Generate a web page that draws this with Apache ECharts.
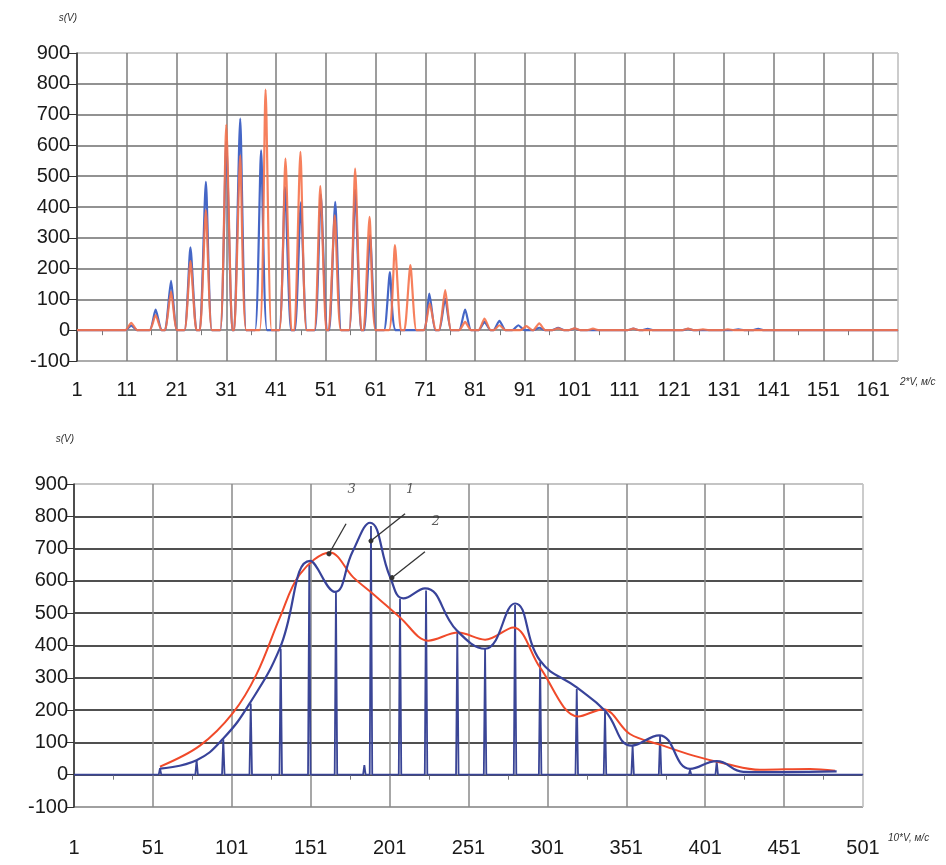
<!DOCTYPE html>
<html>
<head>
<meta charset="utf-8">
<title>s(V)</title>
<script src="https://cdn.jsdelivr.net/npm/echarts@6/dist/echarts.min.js"></script>
<style>
html, body { margin: 0; padding: 0; background: #fff; }
#chart { width: 946px; height: 865px; }
</style>
</head>
<body>
<div id="chart"></div>
<script>
// ---- upper plot (2*V, m/s) : peak positions and heights
const topBlueX = [11.9, 16.8, 19.9, 23.8, 26.9, 31, 33.8, 38, 42.8, 46, 50, 52.9, 56.9, 59.9, 63.9, 71.8, 75, 79, 82.9, 85.9, 89.7, 93.9, 97.7, 101, 112.8, 115.7, 123.8, 133.9, 137.9];
const topBlueY = [15, 67, 160, 269, 482, 612, 687, 584, 465, 415, 440, 417, 455, 308, 189, 119, 103, 67, 27, 30, 16, 8, 8, 5, 5, 4, 4, 3, 4];
const topRedX = [11.9, 16.8, 19.9, 23.8, 26.9, 31, 33.8, 38.9, 42.9, 45.9, 49.9, 52.8, 56.9, 59.8, 64.9, 68, 71.9, 75, 79, 82.9, 85.9, 91.3, 93.9, 97.7, 101, 104.7, 112.8, 123.8, 126.8, 131.8];
const topRedY = [24, 49, 125, 224, 390, 667, 568, 781, 557, 579, 468, 373, 525, 368, 276, 211, 87, 130, 27, 38, 16, 13, 22, 6, 6, 5, 5, 5, 3, 3];
const topXTicks = [1, 11, 21, 31, 41, 51, 61, 71, 81, 91, 101, 111, 121, 131, 141, 151, 161];

// ---- lower plot (10*V, m/s)
const envBlueX = [55.5, 78.7, 95.6, 112.5, 131.5, 150.6, 166.4, 177.5, 188.6, 201.3, 209.7, 223.4, 243.5, 261.5, 280.5, 296.4, 319.6, 337.5, 354.4, 371.9, 391.4, 408.3, 425.2, 450, 484.3];
const envBlueY = [19, 45, 112, 222, 392, 662, 566, 690, 780, 612, 546, 577, 447, 390, 530, 353, 270, 198, 90, 122, 18, 42, 9, 8, 10];
const envRedX = [55.5, 80.8, 102, 116.8, 131.5, 144.2, 163.2, 178, 190.7, 207.6, 225.5, 244.5, 261.5, 279.4, 296.3, 320.6, 336.4, 353.3, 372.4, 393.5, 414.6, 435.7, 467.4, 483.3];
const envRedY = [25, 90, 193, 312, 487, 621, 688, 611, 559, 487, 415, 440, 418, 456, 332, 180, 203, 126, 93, 59, 33, 15, 18, 12];
const spikeX = [55.5, 78.7, 95.6, 113, 132, 150.1, 167, 185, 189.2, 207.6, 224.1, 243.9, 261.5, 280.5, 296.4, 319.6, 337.5, 355, 372.4, 391.4, 408.3];
const spikeY = [20, 45, 110, 220, 390, 650, 565, 30, 770, 545, 570, 440, 390, 525, 350, 265, 195, 90, 120, 15, 40];
const botXTicks = [1, 51, 101, 151, 201, 251, 301, 351, 401, 451, 501];

// curve labels 1, 2, 3 with their leader lines
const noteText = ['3', '1', '2'];
const noteTextX = [177, 214, 230.4];
const noteTextY = [882, 882, 783];
const noteFrom = [[173.4, 777], [210.8, 808], [223.4, 690]];
const noteTo = [[162.6, 684], [189.2, 724], [202.5, 610]];

const yTicks = [-100, 0, 100, 200, 300, 400, 500, 600, 700, 800, 900];

// axes start at 0, the picture labels start at 1
const sh = x => x - 1;

// each peak: foot, top, foot on the zero line
function peakLine(xs, ys, hw, first, last) {
  const pts = [[sh(first), 0]];
  for (let i = 0; i < xs.length; i++) {
    pts.push([sh(xs[i] - hw), 0]);
    pts.push([sh(xs[i]), ys[i]]);
    pts.push([sh(xs[i] + hw), 0]);
  }
  pts.push([sh(last), 0]);
  return pts;
}
const pairs = (xs, ys) => xs.map((x, i) => [sh(x), ys[i]]);

// grid lines: darker inside, pale on the outer frame
function gridColors(n, inner, first, last) {
  const c = [first];
  for (let i = 1; i < n - 1; i++) c.push(inner);
  c.push(last);
  return c;
}

const numFont = 'Liberation Sans';

const chart = echarts.init(document.getElementById('chart'));
chart.setOption({
  animation: false,
  backgroundColor: '#fff',
  grid: [
    { left: 77, top: 53, width: 821, height: 308, show: true, borderColor: '#c8c8c8', borderWidth: 1 },
    { left: 74, top: 484, width: 789, height: 323, show: true, borderColor: '#c8c8c8', borderWidth: 1 }
  ],
  xAxis: [
    {
      gridIndex: 0, type: 'value', min: 0, max: 165, interval: 10, position: 'bottom',
      axisLine: { show: false, onZero: false },
      axisTick: { show: false },
      axisLabel: {
        margin: 19, fontSize: 20, fontFamily: numFont, color: '#1a1a1a',
        formatter: v => topXTicks.includes(v + 1) ? String(v + 1) : ''
      },
      splitLine: { show: true, lineStyle: { color: gridColors(18, '#7c7c7c', '#7c7c7c', '#c4c4c4'), width: 1.5 } },
      name: '2*V, м/с', nameLocation: 'end', nameGap: 2,
      nameTextStyle: { fontStyle: 'italic', fontSize: 10, color: '#333', verticalAlign: 'top', padding: [16, 0, 0, 0] }
    },
    {
      gridIndex: 0, type: 'value', min: 0, max: 165, interval: 10, position: 'bottom',
      axisLine: { show: true, onZero: true, lineStyle: { color: '#999', width: 1 } },
      axisTick: { show: false },
      minorTick: { show: true, splitNumber: 2, length: 5, lineStyle: { color: '#777', width: 1 } },
      axisLabel: { show: false },
      splitLine: { show: false }
    },
    {
      gridIndex: 1, type: 'value', min: 0, max: 500, interval: 50, position: 'bottom',
      axisLine: { show: false, onZero: false },
      axisTick: { show: false },
      axisLabel: {
        margin: 31, fontSize: 20, fontFamily: numFont, color: '#1a1a1a',
        formatter: v => botXTicks.includes(v + 1) ? String(v + 1) : ''
      },
      splitLine: { show: true, lineStyle: { color: gridColors(11, '#8a8a8a', '#8a8a8a', '#c4c4c4'), width: 1.5 } },
      name: '10*V, м/с', nameLocation: 'end', nameGap: 25,
      nameTextStyle: { fontStyle: 'italic', fontSize: 10, color: '#333', verticalAlign: 'top', padding: [26, 0, 0, 0] }
    },
    {
      gridIndex: 1, type: 'value', min: 0, max: 500, interval: 50, position: 'bottom',
      axisLine: { show: true, onZero: true, lineStyle: { color: '#999', width: 1 } },
      axisTick: { show: false },
      minorTick: { show: true, splitNumber: 2, length: 5, lineStyle: { color: '#777', width: 1 } },
      axisLabel: { show: false },
      splitLine: { show: false }
    }
  ],
  yAxis: [
    {
      gridIndex: 0, type: 'value', min: -100, max: 900, interval: 100,
      axisLine: { show: true, onZero: false, lineStyle: { color: '#333', width: 1.5 } },
      axisTick: { show: true, length: 8, lineStyle: { color: '#333' } },
      axisLabel: { margin: 7, fontSize: 20, fontFamily: numFont, color: '#1a1a1a',
        formatter: v => yTicks.includes(v) ? String(v) : '' },
      splitLine: { show: true, lineStyle: { color: gridColors(11, '#6e6e6e', '#9a9a9a', '#c4c4c4'), width: 1.5 } },
      name: 's(V)', nameLocation: 'end', nameGap: 30,
      nameTextStyle: { fontStyle: 'italic', fontSize: 10, color: '#333', align: 'right' }
    },
    {
      gridIndex: 1, type: 'value', min: -100, max: 900, interval: 100,
      axisLine: { show: true, onZero: false, lineStyle: { color: '#333', width: 1.5 } },
      axisTick: { show: true, length: 7, lineStyle: { color: '#333' } },
      axisLabel: { margin: 6, fontSize: 20, fontFamily: numFont, color: '#1a1a1a',
        formatter: v => yTicks.includes(v) ? String(v) : '' },
      splitLine: { show: true, lineStyle: { color: gridColors(11, '#505050', '#a0a0a0', '#c4c4c4'), width: 2 } },
      name: 's(V)', nameLocation: 'end', nameGap: 40,
      nameTextStyle: { fontStyle: 'italic', fontSize: 10, color: '#333', align: 'right' }
    }
  ],
  series: [
    {
      name: 'top blue', type: 'line', xAxisIndex: 0, yAxisIndex: 0,
      data: peakLine(topBlueX, topBlueY, 1.2, 1, 166),
      showSymbol: false, smooth: 0.2,
      lineStyle: { color: '#4566c6', width: 2.2 }
    },
    {
      name: 'top red', type: 'line', xAxisIndex: 0, yAxisIndex: 0,
      data: peakLine(topRedX, topRedY, 1.2, 1, 166),
      showSymbol: false, smooth: 0.2,
      lineStyle: { color: '#f5724b', width: 2.2, opacity: 0.9 }
    },
    {
      name: 'spikes', type: 'line', xAxisIndex: 2, yAxisIndex: 1,
      data: peakLine(spikeX, spikeY, 0.8, 1, 501),
      showSymbol: false,
      lineStyle: { color: '#3a4596', width: 1.8 }
    },
    {
      name: 'envelope red', type: 'line', xAxisIndex: 2, yAxisIndex: 1,
      data: pairs(envRedX, envRedY),
      showSymbol: false, smooth: 0.35,
      lineStyle: { color: '#f04a2a', width: 2 }
    },
    {
      name: 'envelope blue', type: 'line', xAxisIndex: 2, yAxisIndex: 1,
      data: pairs(envBlueX, envBlueY),
      showSymbol: false, smooth: 0.45,
      lineStyle: { color: '#38439a', width: 2.2 }
    },
    {
      name: 'notes', type: 'scatter', xAxisIndex: 2, yAxisIndex: 1,
      symbolSize: 0,
      data: noteText.map((t, i) => ({ value: [sh(noteTextX[i]), noteTextY[i]], label: { formatter: t } })),
      label: { show: true, position: 'inside', fontStyle: 'italic', fontSize: 13, fontFamily: 'DejaVu Serif', color: '#333' },
      z: 10,
      markLine: {
        silent: true, symbol: ['none', 'circle'], symbolSize: 5,
        label: { show: false },
        lineStyle: { color: '#333', width: 1.3, type: 'solid' },
        data: noteFrom.map((p, i) => [
          { coord: [sh(p[0]), p[1]] },
          { coord: [sh(noteTo[i][0]), noteTo[i][1]] }
        ])
      }
    }
  ]
});
</script>
</body>
</html>
